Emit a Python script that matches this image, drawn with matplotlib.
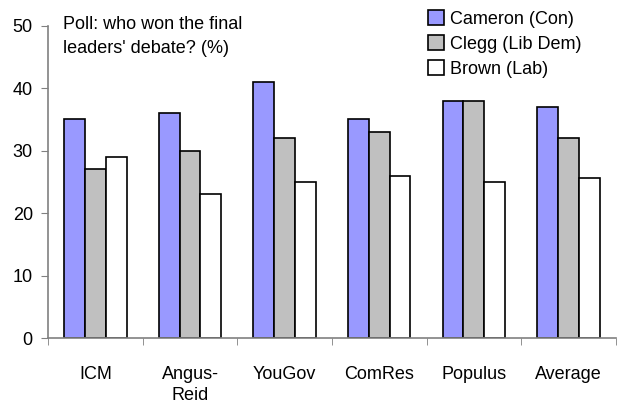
import matplotlib
matplotlib.use("Agg")
import matplotlib.pyplot as plt
import numpy as np

categories = ["ICM", "Angus-\nReid", "YouGov", "ComRes", "Populus", "Average"]
cameron = [35, 36, 41, 35, 38, 37]
clegg = [27, 30, 32, 33, 38, 32]
brown = [29, 23, 25, 26, 25, 25.6]
series_names = ["Cameron (Con)", "Clegg (Lib Dem)", "Brown (Lab)"]
colors = ["#9999ff", "#c0c0c0", "#ffffff"]
yticks = [0, 10, 20, 30, 40, 50]

plt.rcParams['font.family'] = ['Liberation Sans', 'DejaVu Sans']

fig = plt.figure(figsize=(6.17, 4.07), dpi=100)
ax = fig.add_axes([0.078, 0.1695, 0.92, 0.767])

x = np.arange(len(categories))
w = 0.22
for i, (vals, name, c) in enumerate(zip([cameron, clegg, brown], series_names, colors)):
    ax.bar(x + (i - 1) * w, vals, width=w, color=c, edgecolor="black", linewidth=1.2, label=name)

ax.set_xlim(-0.5, len(categories) - 0.5)
ax.set_ylim(0, 50)
ax.set_yticks(yticks)
ax.set_yticklabels([str(t) for t in yticks], fontsize=13)
ax.set_xticks(x)
ax.set_xticklabels(categories, fontsize=13, linespacing=1.35)
ax.tick_params(axis='x', length=0, pad=20)
ax.set_xticks(np.arange(len(categories) + 1) - 0.5, minor=True)
ax.tick_params(axis='x', which='minor', length=5, color="#808080", direction='out')
ax.tick_params(axis='y', length=5, color="#808080", direction='out', pad=6)

for s in ["top", "right"]:
    ax.spines[s].set_visible(False)
ax.spines["left"].set_color("#808080")
ax.spines["bottom"].set_color("#808080")
ax.spines["left"].set_linewidth(1.2)
ax.spines["bottom"].set_linewidth(1.2)

fig.text(0.102, 0.960, "Poll: who won the final\nleaders' debate? (%)", fontsize=13,
         va="top", ha="left", linespacing=1.55)

leg = fig.legend(loc="upper left", bbox_to_anchor=(428 / 617, 1 - 10 / 407), frameon=False, fontsize=13,
                 handlelength=0.9, handleheight=0.9, handletextpad=0.3, labelspacing=0.4,
                 borderaxespad=0, borderpad=0)

fig.savefig("out.png", dpi=100)
